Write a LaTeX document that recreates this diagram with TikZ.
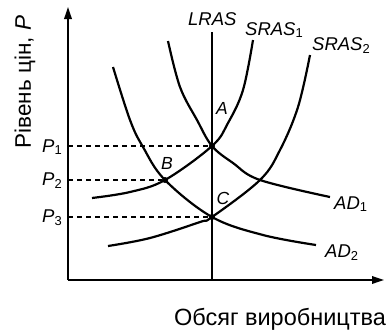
\documentclass[tikz,border=0pt]{standalone}
\usepackage{fontspec}
\setmainfont{Liberation Sans}
\usetikzlibrary{arrows.meta}
\begin{document}
\begin{tikzpicture}[x=1pt,y=-1pt,
  axis/.style={line width=1.8pt,-{Triangle[length=12pt,width=7.5pt]}},
  curve/.style={line width=2.2pt},
  guide/.style={line width=1.4pt,dash pattern=on 5pt off 4pt},
  dot/.style={circle,fill=black,inner sep=0pt,minimum size=6pt},
  lab/.style={inner sep=0pt,font=\fontsize{18.5}{20}\selectfont\itshape},
  ptlab/.style={inner sep=0pt,font=\fontsize{17.5}{19}\selectfont\itshape},
  big/.style={inner sep=0pt,font=\fontsize{23.5}{25}\selectfont}]
\useasboundingbox (0,0) rectangle (389,330);
% axes
\coordinate (O) at (68,280);
\coordinate (Ytop) at (68,7);
\coordinate (Xend) at (384,280);
\draw[axis] (O) -- (Ytop);
\draw[axis] (O) -- (Xend);
% key points
\node[dot] (A) at (212,146) {};
\node[dot] (B) at (165,180) {};
\node[dot] (C) at (212,217) {};
\coordinate (P1a) at (68,146);
\coordinate (P2a) at (68,180);
\coordinate (P3a) at (68,217);
\coordinate (Ltop) at (212,32);
\coordinate (Lbot) at (212,280);
% dashed guides
\draw[guide] (P1a) -- (A);
\draw[guide] (P2a) -- (B);
\draw[guide] (P3a) -- (C);
% LRAS
\draw[curve] (Ltop) -- (Lbot);
% SRAS1
\draw[curve] plot[smooth,tension=0.6] coordinates {(92,198) (130,192) (165,180) (212,146) (228,123) (243,90) (253,40)};
% SRAS2
\draw[curve] plot[smooth,tension=0.6] coordinates {(108,246) (150,238) (200,222) (212,217) (260,180) (280,150) (298,107) (310,55)};
% AD1
\draw[curve] plot[smooth,tension=0.6] coordinates {(168,41) (180,87) (197,120) (212,146) (233,163) (260,180) (330,197)};
% AD2
\draw[curve] plot[smooth,tension=0.6] coordinates {(113,67) (130,120) (143,147) (165,180) (212,217) (263,235) (316,245)};
% labels
\node[lab,anchor=base west] (lLRAS) at (188,25) {LRAS};
\node[lab,anchor=base west] (lS1) at (245,35) {SRAS\textsubscript{\upshape 1}};
\node[lab,anchor=base west] (lS2) at (312,50) {SRAS\textsubscript{\upshape 2}};
\node[lab,anchor=base west] (lAD1) at (334,209) {AD\textsubscript{\upshape 1}};
\node[lab,anchor=base west] (lAD2) at (325,257) {AD\textsubscript{\upshape 2}};
\node[lab,anchor=base west] (lP1) at (42,152) {P\textsubscript{\upshape 1}};
\node[lab,anchor=base west] (lP2) at (42,185) {P\textsubscript{\upshape 2}};
\node[lab,anchor=base west] (lP3) at (42,222) {P\textsubscript{\upshape 3}};
\node[ptlab] (lA) at (222,108) {A};
\node[ptlab] (lB) at (167,163) {B};
\node[ptlab] (lC) at (223,198) {C};
\node[big,rotate=90,font=\fontsize{22.5}{24}\selectfont] (ylab) at (25,82) {Рівень цін, \textit{P}};
\node[big,anchor=base] (xlab) at (280,325) {Обсяг виробництва};
\end{tikzpicture}
\end{document}
